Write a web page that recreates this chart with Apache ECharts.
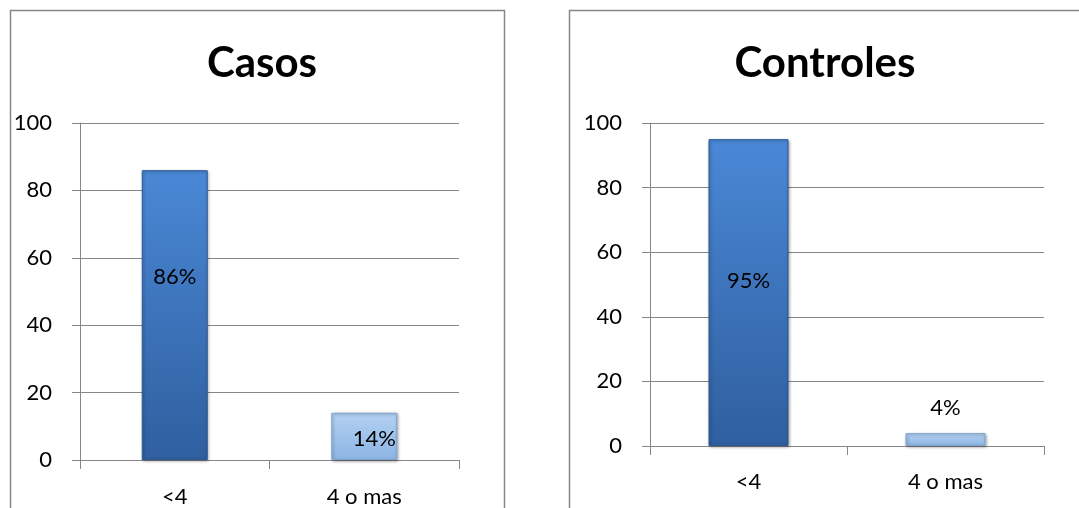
<!DOCTYPE html>
<html lang="es">
<head>
    <meta charset="UTF-8">
    <title>Casos / Controles</title>
    <script src="https://cdn.jsdelivr.net/npm/echarts@6/dist/echarts.min.js"></script>
    <style type="text/css">
        html, body { margin: 0; padding: 0; background: #fff; }
        #chart { width: 1079px; height: 508px; }
    </style>
</head>
<body>
<div id="chart"></div>
<script type="text/javascript">
    // datos
    var categorias = ['<4', '4 o mas'];
    var casos = [86, 14];
    var controles = [95, 4];
    var etiquetasCasos = ['86%', '14%'];
    var etiquetasControles = ['95%', '4%'];
    var ticksY = [0, 20, 40, 60, 80, 100];

    var FONT = 'Lato, "Open Sans", sans-serif';
    var GRIS = '#868686';

    var azulOscuro = new echarts.graphic.LinearGradient(0, 0, 0, 1, [
        {offset: 0, color: '#4a88d6'},
        {offset: 1, color: '#2f5f9f'}
    ]);
    var azulClaro = new echarts.graphic.LinearGradient(0, 0, 0, 1, [
        {offset: 0, color: '#b3d1f2'},
        {offset: 1, color: '#8cb5e3'}
    ]);

    function ejeY(idx) {
        return {
            type: 'value', gridIndex: idx,
            min: ticksY[0], max: ticksY[ticksY.length - 1], interval: 20,
            axisLine: {show: true, lineStyle: {color: GRIS, width: 1}},
            axisTick: {show: true, length: 8, lineStyle: {color: GRIS}},
            axisLabel: {color: '#000', fontFamily: FONT, fontSize: 22, margin: 28},
            splitLine: {lineStyle: {color: GRIS, width: 1}}
        };
    }
    function ejeX(idx, margen) {
        return {
            type: 'category', gridIndex: idx, data: categorias,
            axisLine: {lineStyle: {color: GRIS, width: 1}},
            axisTick: {show: true, length: 9, alignWithLabel: false, lineStyle: {color: GRIS}},
            axisLabel: {color: '#000', fontFamily: FONT, fontSize: 22, margin: margen}
        };
    }
    function barras(idx, valores, etiquetas, ancho, posiciones) {
        return {
            type: 'bar', xAxisIndex: idx, yAxisIndex: idx,
            barWidth: ancho,
            data: valores.map(function (v, i) {
                return {
                    value: v,
                    itemStyle: {
                        color: i === 0 ? azulOscuro : azulClaro,
                        borderColor: i === 0 ? '#2c5a94' : '#7fa6d4',
                        borderWidth: 1,
                        shadowColor: 'rgba(0,0,0,0.35)',
                        shadowBlur: 3,
                        shadowOffsetX: 1,
                        shadowOffsetY: 1
                    },
                    label: posiciones[i]
                };
            }),
            label: {
                show: true, color: '#000', fontFamily: FONT, fontSize: 22,
                formatter: function (p) { return etiquetas[p.dataIndex]; }
            }
        };
    }

    var chart = echarts.init(document.getElementById('chart'), null, {renderer: 'canvas'});
    var option = {
        animation: false,
        backgroundColor: '#fff',
        title: [
            {text: 'Casos', left: 257, top: 37, textAlign: 'center',
                textStyle: {fontFamily: FONT, fontSize: 42, fontWeight: 'bold', color: '#000'}},
            {text: 'Controles', left: 820, top: 37, textAlign: 'center',
                textStyle: {fontFamily: FONT, fontSize: 42, fontWeight: 'bold', color: '#000'}}
        ],
        graphic: [
            {type: 'rect', shape: {x: 10.5, y: 10.5, width: 494, height: 520},
                style: {fill: 'none', stroke: GRIS, lineWidth: 1.5}, silent: true},
            {type: 'rect', shape: {x: 569.5, y: 10.5, width: 600, height: 520},
                style: {fill: 'none', stroke: GRIS, lineWidth: 1.5}, silent: true}
        ],
        grid: [
            {left: 80, top: 123, width: 379, height: 342},
            {left: 650, top: 123, width: 394, height: 323}
        ],
        xAxis: [ejeX(0, 26), ejeX(1, 25)],
        yAxis: [ejeY(0), ejeY(1)],
        series: [
            barras(0, casos, etiquetasCasos, 66, [
                {position: 'inside', offset: [0, -38]},
                {position: 'inside', offset: [10, 2]}
            ]),
            barras(1, controles, etiquetasControles, 80, [
                {position: 'inside', offset: [0, -12]},
                {position: 'top', distance: 14}
            ])
        ]
    };
    chart.setOption(option);
</script>
</body>
</html>
